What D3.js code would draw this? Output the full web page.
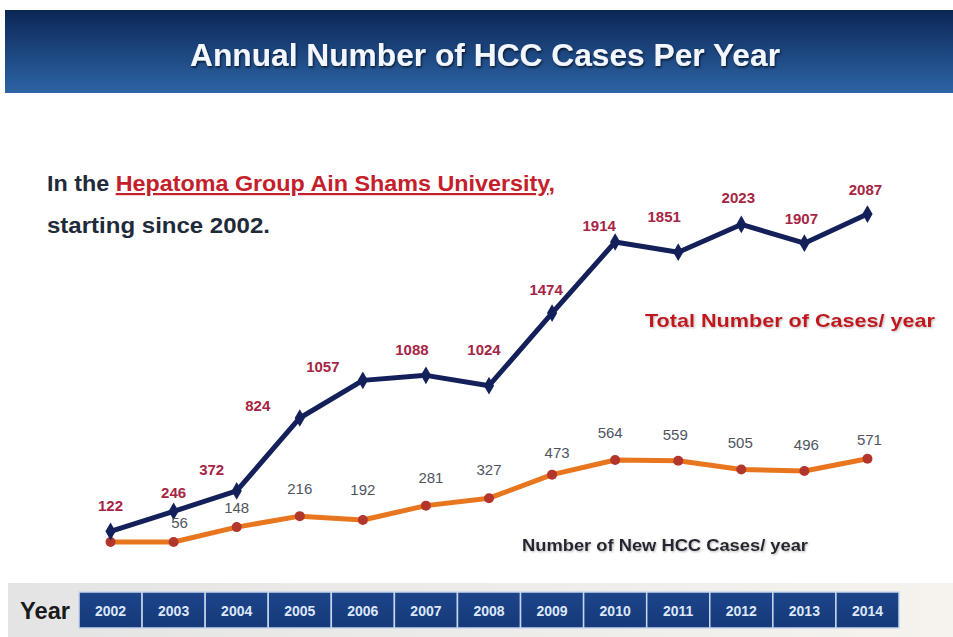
<!DOCTYPE html>
<html>
<head>
<meta charset="utf-8">
<script src="https://cdn.jsdelivr.net/npm/d3@7"></script>
<style>
  body { margin: 0; background: #fff; }
  svg { display: block; font-family: Arial, "Liberation Sans", sans-serif; }
</style>
</head>
<body>
<div id="chart"></div>
<script>
//data
var years = ["2002", "2003", "2004", "2005", "2006", "2007", "2008", "2009", "2010", "2011", "2012", "2013", "2014"];
var totalCases = [122, 246, 372, 824, 1057, 1088, 1024, 1474, 1914, 1851, 2023, 1907, 2087];
var newCases = [56, 56, 148, 216, 192, 281, 327, 473, 564, 559, 505, 496, 571];
var newShown = [false, true, true, true, true, true, true, true, true, true, true, true, true];

//label nudges (layout only)
var totalNudge = [[0, -25], [0, -18], [-25, -21], [-42, -12], [-40, -13], [-14, -25], [-5, -36], [-6, -23], [-16, -16], [-14, -35], [-3, -26], [-3, -24], [-2, -24]];
var newNudge = [[0, 0], [6, -19], [0, -19], [0, -27], [0, -30], [5, -28], [0, -28], [5, -22], [-5, -27], [-3, -26], [-1, -26], [2, -26], [2, -19]];

var width = 953;
var height = 637;

var svg = d3.select("#chart").append("svg")
  .attr("width", width)
  .attr("height", height);

var defs = svg.append("defs");

var titleGrad = defs.append("linearGradient")
  .attr("id", "titleGrad")
  .attr("x1", 0).attr("y1", 0).attr("x2", 0).attr("y2", 1);
titleGrad.append("stop").attr("offset", "0%").attr("stop-color", "#0b2656");
titleGrad.append("stop").attr("offset", "100%").attr("stop-color", "#2d65a6");

var bandGrad = defs.append("linearGradient")
  .attr("id", "bandGrad")
  .attr("x1", 0).attr("y1", 0).attr("x2", 1).attr("y2", 0);
bandGrad.append("stop").attr("offset", "0%").attr("stop-color", "#e4e4e4");
bandGrad.append("stop").attr("offset", "100%").attr("stop-color", "#f6f3ee");

var cellGrad = defs.append("linearGradient")
  .attr("id", "cellGrad")
  .attr("x1", 0).attr("y1", 0).attr("x2", 0).attr("y2", 1);
cellGrad.append("stop").attr("offset", "0%").attr("stop-color", "#1d4589");
cellGrad.append("stop").attr("offset", "100%").attr("stop-color", "#15397a");

var shadow = defs.append("filter").attr("id", "shadow")
  .attr("x", "-10%").attr("y", "-30%").attr("width", "120%").attr("height", "160%");
shadow.append("feDropShadow")
  .attr("dx", 1).attr("dy", 1.5).attr("stdDeviation", 1)
  .attr("flood-color", "#000").attr("flood-opacity", 0.7);

var softShadow = defs.append("filter").attr("id", "softShadow")
  .attr("x", "-10%").attr("y", "-30%").attr("width", "120%").attr("height", "160%");
softShadow.append("feDropShadow")
  .attr("dx", 1).attr("dy", 1).attr("stdDeviation", 0.8)
  .attr("flood-color", "#888").attr("flood-opacity", 0.6);

//title bar
svg.append("rect")
  .attr("x", 5).attr("y", 10)
  .attr("width", width - 5).attr("height", 83)
  .style("fill", "url(#titleGrad)");

svg.append("text")
  .attr("x", 485).attr("y", 66)
  .attr("text-anchor", "middle")
  .attr("textLength", 590)
  .attr("lengthAdjust", "spacingAndGlyphs")
  .style("font-size", "31px")
  .style("font-weight", "bold")
  .style("fill", "#f2f6ff")
  .attr("filter", "url(#shadow)")
  .text("Annual Number of HCC Cases Per Year");

//intro text
var intro = svg.append("text")
  .attr("x", 47).attr("y", 191)
  .attr("textLength", 508)
  .attr("lengthAdjust", "spacingAndGlyphs")
  .style("font-size", "22px")
  .style("font-weight", "bold")
  .style("fill", "#1f2a3a");
intro.append("tspan").text("In the ");
intro.append("tspan")
  .style("fill", "#c4202c")
  .style("text-decoration", "underline")
  .text("Hepatoma Group Ain  Shams University");
intro.append("tspan").style("fill", "#c4202c").text(",");

svg.append("text")
  .attr("x", 47).attr("y", 233)
  .attr("textLength", 223)
  .attr("lengthAdjust", "spacingAndGlyphs")
  .style("font-size", "22px")
  .style("font-weight", "bold")
  .style("fill", "#1f2a3a")
  .text("starting since 2002.");

//scales
var x = d3.scaleBand()
  .domain(years)
  .range([79, 899]);

var y = d3.scaleLinear()
  .domain([0, 2100])
  .range([551, 212]);

var cx = function(d, i) { return x(years[i]) + x.bandwidth() / 2; };

//year band
svg.append("rect")
  .attr("x", 8).attr("y", 583)
  .attr("width", width - 8).attr("height", 54)
  .style("fill", "url(#bandGrad)");

svg.append("text")
  .attr("x", 20).attr("y", 619)
  .attr("textLength", 50)
  .attr("lengthAdjust", "spacingAndGlyphs")
  .style("font-size", "24px")
  .style("font-weight", "bold")
  .style("fill", "#1a1a1a")
  .text("Year");

var cells = svg.selectAll(".yearCell")
  .data(years)
  .enter()
  .append("g")
  .attr("class", "yearCell");

cells.append("rect")
  .attr("x", function(d) { return x(d); })
  .attr("y", 592)
  .attr("width", x.bandwidth())
  .attr("height", 36)
  .style("fill", "url(#cellGrad)")
  .style("stroke", "#c6d6ee")
  .style("stroke-width", 1.5);

cells.append("text")
  .attr("x", function(d) { return x(d) + x.bandwidth() / 2; })
  .attr("y", 616)
  .attr("text-anchor", "middle")
  .style("font-size", "14px")
  .style("font-weight", "bold")
  .style("fill", "#dce8fa")
  .text(function(d) { return d; });

//lines
var line = d3.line()
  .x(cx)
  .y(function(d) { return y(d); });

svg.append("path")
  .datum(newCases)
  .attr("d", line)
  .style("fill", "none")
  .style("stroke", "#e8761f")
  .style("stroke-width", 5)
  .style("stroke-linejoin", "round");

svg.selectAll(".newDot")
  .data(newCases)
  .enter()
  .append("circle")
  .attr("class", "newDot")
  .attr("cx", cx)
  .attr("cy", function(d) { return y(d); })
  .attr("r", 5)
  .style("fill", "#b2362c");

svg.append("path")
  .datum(totalCases)
  .attr("d", line)
  .style("fill", "none")
  .style("stroke", "#14205a")
  .style("stroke-width", 5)
  .style("stroke-linejoin", "round");

svg.selectAll(".totalDot")
  .data(totalCases)
  .enter()
  .append("path")
  .attr("class", "totalDot")
  .attr("transform", function(d, i) { return "translate(" + cx(d, i) + "," + y(d) + ")"; })
  .attr("d", d3.symbol().type(d3.symbolDiamond).size(90))
  .style("fill", "#14205a");

//value labels
svg.selectAll(".totalLabel")
  .data(totalCases)
  .enter()
  .append("text")
  .attr("class", "totalLabel")
  .attr("x", function(d, i) { return cx(d, i) + totalNudge[i][0]; })
  .attr("y", function(d, i) { return y(d) + totalNudge[i][1] + 5; })
  .attr("text-anchor", "middle")
  .style("font-size", "15px")
  .style("font-weight", "bold")
  .style("fill", "#a62545")
  .text(function(d) { return d; });

svg.selectAll(".newLabel")
  .data(newCases)
  .enter()
  .append("text")
  .attr("class", "newLabel")
  .attr("x", function(d, i) { return cx(d, i) + newNudge[i][0]; })
  .attr("y", function(d, i) { return y(d) + newNudge[i][1] + 5; })
  .attr("text-anchor", "middle")
  .style("font-size", "15px")
  .style("fill", "#4f5560")
  .text(function(d, i) { return newShown[i] ? d : ""; });

//series names
svg.append("text")
  .attr("x", 645).attr("y", 327)
  .attr("textLength", 290)
  .attr("lengthAdjust", "spacingAndGlyphs")
  .style("font-size", "19px")
  .style("font-weight", "bold")
  .style("fill", "#c2161e")
  .attr("filter", "url(#softShadow)")
  .text("Total Number of Cases/ year");

svg.append("text")
  .attr("x", 522).attr("y", 551)
  .attr("textLength", 286)
  .attr("lengthAdjust", "spacingAndGlyphs")
  .style("font-size", "16px")
  .style("font-weight", "bold")
  .style("fill", "#262630")
  .attr("filter", "url(#softShadow)")
  .text("Number of New HCC Cases/ year");
</script>
</body>
</html>
